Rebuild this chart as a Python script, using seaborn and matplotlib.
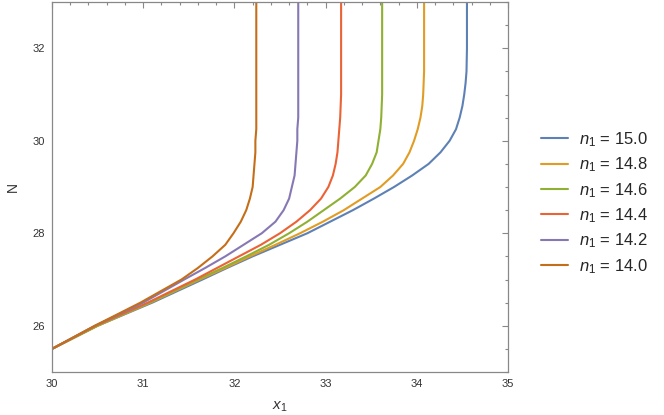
import matplotlib
matplotlib.use('Agg')

import numpy as np
import pandas as pd
from matplotlib import pyplot as plt
from matplotlib.ticker import MultipleLocator
import seaborn as sns

# N levels (common grid) and x_1
N_levels = [25.5, 26.0, 26.5, 27.0, 27.25, 27.5, 27.75, 28.0, 28.25, 28.5,
            28.75, 29.0, 29.25, 29.5, 29.75, 30.0, 30.25, 30.5, 30.75, 31.0,
            31.25, 31.5, 32.0, 33.0]

x_150 = [30.0, 30.5, 31.1, 31.65, 31.92, 32.2, 32.5, 32.8, 33.05, 33.3,
         33.53, 33.75, 33.95, 34.13, 34.26, 34.36, 34.43, 34.47, 34.5, 34.52,
         34.535, 34.545, 34.55, 34.55]
x_148 = [30.0, 30.5, 31.08, 31.62, 31.9, 32.17, 32.45, 32.72, 32.97, 33.2,
         33.4, 33.6, 33.74, 33.85, 33.92, 33.97, 34.01, 34.04, 34.06, 34.07,
         34.075, 34.08, 34.08, 34.08]
x_146 = [30.0, 30.5, 31.07, 31.6, 31.87, 32.13, 32.38, 32.6, 32.8, 32.98,
         33.16, 33.32, 33.44, 33.51, 33.56, 33.58, 33.6, 33.61, 33.615, 33.62,
         33.62, 33.62, 33.62, 33.62]
x_144 = [30.0, 30.48, 31.05, 31.57, 31.81, 32.05, 32.29, 32.5, 32.68, 32.83,
         32.95, 33.03, 33.08, 33.11, 33.13, 33.14, 33.15, 33.16, 33.165, 33.17,
         33.17, 33.17, 33.17, 33.17]
x_142 = [30.0, 30.47, 31.0, 31.45, 31.68, 31.9, 32.1, 32.3, 32.45, 32.54,
         32.6, 32.63, 32.66, 32.67, 32.68, 32.69, 32.69, 32.7, 32.7, 32.7,
         32.7, 32.7, 32.7, 32.7]
x_140 = [30.0, 30.47, 30.97, 31.42, 31.6, 31.76, 31.9, 31.99, 32.07, 32.13,
         32.17, 32.2, 32.21, 32.22, 32.23, 32.23, 32.24, 32.24, 32.24, 32.24,
         32.24, 32.24, 32.24, 32.24]

labels = [r'$n_1$ = 15.0', r'$n_1$ = 14.8', r'$n_1$ = 14.6',
          r'$n_1$ = 14.4', r'$n_1$ = 14.2', r'$n_1$ = 14.0']
colors = ['#5E81B5', '#E19C24', '#8FB032', '#EB6235', '#8778B3', '#C56E1A']

frames = []
for lab, xs in zip(labels, [x_150, x_148, x_146, x_144, x_142, x_140]):
    frames.append(pd.DataFrame({'x': xs, 'N': N_levels, 'curve': lab}))
df = pd.concat(frames, ignore_index=True)

sns.set_style('white')
plt.rcParams['font.family'] = ['Liberation Sans', 'DejaVu Sans']
plt.rcParams['mathtext.fontset'] = 'custom'
plt.rcParams['mathtext.rm'] = 'Liberation Sans'
plt.rcParams['mathtext.it'] = 'Liberation Sans:italic'

fig = plt.figure(figsize=(6.64, 4.15), dpi=100)
ax = fig.add_axes([52 / 664, 1 - 372 / 415, 456 / 664, 370 / 415])

sns.lineplot(data=df, x='x', y='N', hue='curve', palette=colors, sort=False,
             estimator=None, linewidth=1.5, ax=ax, legend=True)

ax.set_xlim(30, 35)
ax.set_ylim(25, 33)
ax.xaxis.set_major_locator(MultipleLocator(1))
ax.xaxis.set_minor_locator(MultipleLocator(0.2))
ax.yaxis.set_major_locator(MultipleLocator(2))
ax.yaxis.set_minor_locator(MultipleLocator(0.5))
ax.tick_params(which='both', direction='in', top=True, right=True,
               colors='#888888', labelcolor='#333333', labelsize=8, width=0.8)
ax.tick_params(which='major', length=4, pad=5)
ax.tick_params(which='minor', length=2.5)
for sp in ax.spines.values():
    sp.set_color('#888888')
    sp.set_linewidth(0.9)

ax.set_xlabel(r'$x_1$', fontsize=11, color='#333333', labelpad=8)
ax.set_ylabel('N', fontsize=10, color='#333333', labelpad=9)

handles, labs = ax.get_legend_handles_labels()
ax.legend(handles, labs, loc='center left', bbox_to_anchor=(1.04, 0.457),
          frameon=False, fontsize=12, handlelength=1.6, labelspacing=0.4,
          handletextpad=0.65)

fig.savefig('out.png', dpi=100)
